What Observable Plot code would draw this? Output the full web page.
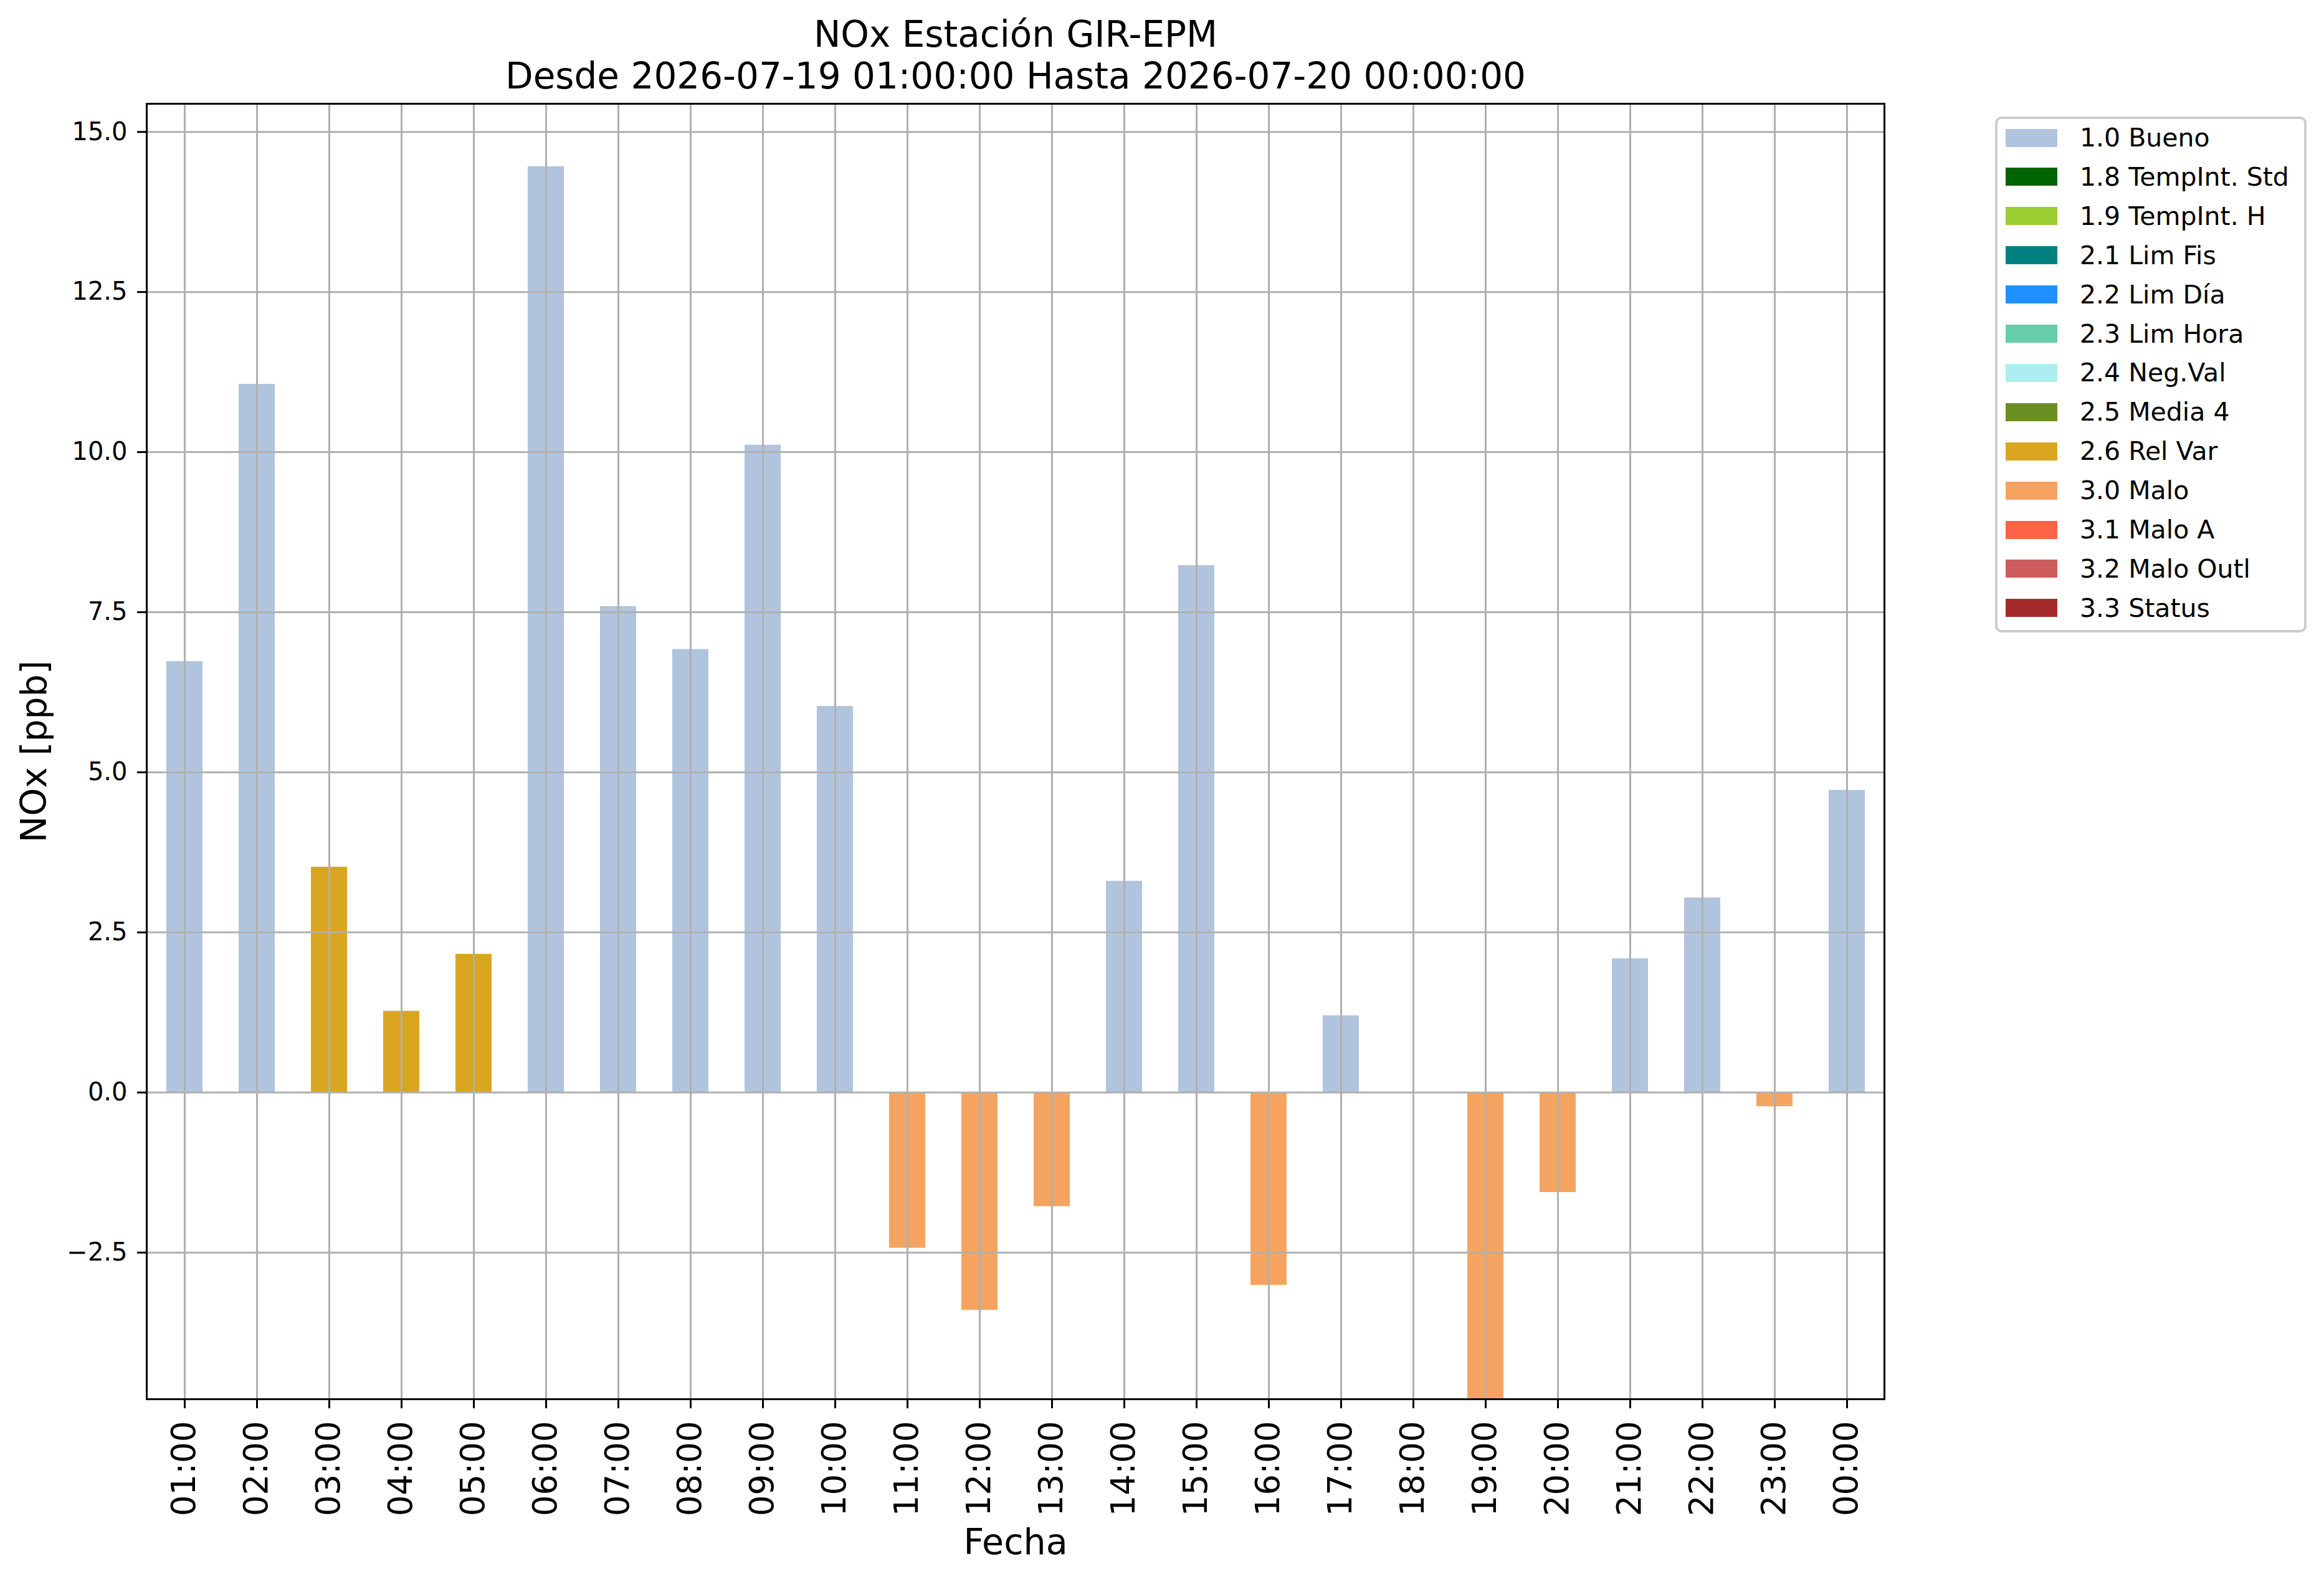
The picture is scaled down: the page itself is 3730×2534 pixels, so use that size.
<!DOCTYPE html>
<html>
<head>
<meta charset="utf-8">
<script src="https://cdn.jsdelivr.net/npm/d3@7"></script>
<script src="https://cdn.jsdelivr.net/npm/@observablehq/plot@0.6"></script>
<style>
  html, body { margin: 0; padding: 0; background: white; }
  #wrap { position: relative; width: 3730px; height: 2534px; font-family: "DejaVu Sans", sans-serif; }
  #legend { position: absolute; left: 3202px; top: 187px; width: 492px; height: 820px;
            border: 4px solid #cccccc; border-radius: 10px; background: rgba(255,255,255,0.8); }
  .sw { position: absolute; width: 83px; height: 29px; }
  .lt { position: absolute; font-size: 41px; line-height: 50px; color: black; white-space: nowrap; }
</style>
</head>
<body>
<div id="wrap"></div>
<script>
// ---- data ----
const hours = ["01:00","02:00","03:00","04:00","05:00","06:00","07:00","08:00","09:00","10:00","11:00","12:00",
               "13:00","14:00","15:00","16:00","17:00","18:00","19:00","20:00","21:00","22:00","23:00","00:00"];
const values = [6.73, 11.06, 3.52, 1.27, 2.16, 14.46, 7.59, 6.92, 10.11, 6.03, -2.43, -3.40,
                -1.78, 3.30, 8.23, -3.01, 1.20, null, -4.79, -1.56, 2.09, 3.04, -0.22, 4.72];
const flags = ["1.0 Bueno","1.0 Bueno","2.6 Rel Var","2.6 Rel Var","2.6 Rel Var","1.0 Bueno","1.0 Bueno","1.0 Bueno",
               "1.0 Bueno","1.0 Bueno","3.0 Malo","3.0 Malo","3.0 Malo","1.0 Bueno","1.0 Bueno","3.0 Malo",
               "1.0 Bueno",null,"3.0 Malo","3.0 Malo","1.0 Bueno","1.0 Bueno","3.0 Malo","1.0 Bueno"];
const legendLabels = ["1.0 Bueno","1.8 TempInt. Std","1.9 TempInt. H","2.1 Lim Fis","2.2 Lim Día","2.3 Lim Hora",
                      "2.4 Neg.Val","2.5 Media 4","2.6 Rel Var","3.0 Malo","3.1 Malo A","3.2 Malo Outl","3.3 Status"];
const legendColors = ["#b0c4de","#006400","#9acd32","#008080","#1e90ff","#66cdaa",
                      "#afeeee","#6b8e23","#daa520","#f4a460","#ff6347","#cd5c5c","#a52a2a"];
const yTicks = [-2.5, 0, 2.5, 5, 7.5, 10, 12.5, 15];
const title1 = "NOx Estación GIR-EPM";
const title2 = "Desde 2026-07-19 01:00:00 Hasta 2026-07-20 00:00:00";
const yLabel = "NOx [ppb]";
const xLabel = "Fecha";

const data = hours.map((h, i) => ({hour: h, value: values[i], flag: flags[i]})).filter(d => d.value != null);
const fmt = d => (d < 0 ? "\u2212" : "") + Math.abs(d).toFixed(1);

const chart = Plot.plot({
  width: 3730,
  height: 2534,
  marginLeft: 235,
  marginRight: 706,
  marginTop: 166,
  marginBottom: 289,
  style: {fontFamily: "DejaVu Sans", fontSize: "40px", background: "white", overflow: "visible", color: "black"},
  x: {type: "band", domain: hours, paddingInner: 0.5, paddingOuter: 0.25, axis: null},
  y: {domain: [-4.79, 15.44], axis: null},
  color: {domain: legendLabels, range: legendColors},
  marks: [
    Plot.barY(data, {x: "hour", y: "value", fill: "flag"}),
    Plot.gridY(yTicks, {stroke: "#b0b0b0", strokeOpacity: 1, strokeWidth: 3}),
    Plot.gridX(hours, {stroke: "#b0b0b0", strokeOpacity: 1, strokeWidth: 3}),
    Plot.frame({stroke: "black", strokeWidth: 3}),
    Plot.axisY(yTicks, {tickFormat: fmt, tickSize: 15, tickPadding: 16, fontSize: 40, strokeWidth: 3, label: null}),
    Plot.axisX(hours, {tickRotate: -90, tickSize: 15, tickPadding: 20, fontSize: 53, strokeWidth: 3, label: null}),
    Plot.text([yLabel], {frameAnchor: "left", dx: -180, rotate: -90, textAnchor: "middle", lineAnchor: "middle", fontSize: 57}),
    Plot.text([xLabel], {frameAnchor: "bottom", dy: 230, textAnchor: "middle", lineAnchor: "middle", fontSize: 57}),
    Plot.text([title1], {frameAnchor: "top", dy: -110, textAnchor: "middle", lineAnchor: "middle", fontSize: 58}),
    Plot.text([title2], {frameAnchor: "top", dy: -43.5, textAnchor: "middle", lineAnchor: "middle", fontSize: 58})
  ]
});

const wrap = document.getElementById("wrap");
wrap.appendChild(chart);

const legend = document.createElement("div");
legend.id = "legend";
legendLabels.forEach((lab, i) => {
  const cy = 221 - 187 - 4 + i * 62.9;
  const sw = document.createElement("div");
  sw.className = "sw";
  sw.style.left = (3219 - 3202 - 4) + "px";
  sw.style.top = (cy - 14.5) + "px";
  sw.style.background = legendColors[i];
  legend.appendChild(sw);
  const t = document.createElement("div");
  t.className = "lt";
  t.style.left = (3338 - 3202 - 4) + "px";
  t.style.top = (cy - 25) + "px";
  t.textContent = lab;
  legend.appendChild(t);
});
wrap.appendChild(legend);
</script>
</body>
</html>
